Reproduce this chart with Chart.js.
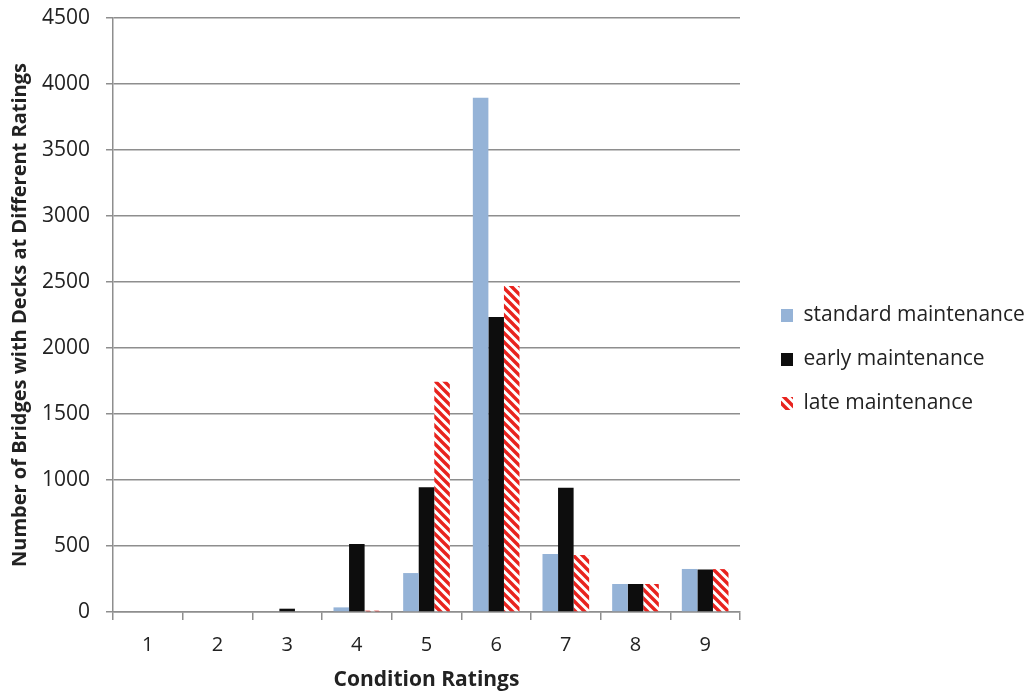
<!DOCTYPE html>
<html lang="en">
<head>
<meta charset="UTF-8">
<title>Condition Ratings</title>
<script src="https://cdn.jsdelivr.net/npm/chart.js"></script>
<style>
  body { margin: 0; background: #fff; }
  #wrap { width: 1028px; height: 694px; }
</style>
</head>
<body>
<div id="wrap"><canvas id="chart"></canvas></div>
<script>
const ratings = ["1", "2", "3", "4", "5", "6", "7", "8", "9"];
const standardMaint = [0, 0, 0, 35, 295, 3895, 440, 212, 326];
const earlyMaint = [0, 0, 25, 515, 945, 2235, 942, 212, 322];
const lateMaint = [0, 0, 0, 10, 1745, 2470, 432, 212, 325];

// red diagonal stripes for "late"
function stripes() {
  const s = 9;
  const c = document.createElement("canvas");
  c.width = s; c.height = s;
  const g = c.getContext("2d");
  g.fillStyle = "#fff";
  g.fillRect(0, 0, s, s);
  g.strokeStyle = "#e8231e";
  g.lineWidth = 3.4;
  g.beginPath();
  g.moveTo(-s, 0); g.lineTo(s, 2 * s);
  g.moveTo(0, 0); g.lineTo(s, s);
  g.moveTo(0, -s); g.lineTo(2 * s, s);
  g.stroke();
  return g.createPattern(c, "repeat");
}

const grey = "#8e8e8e";
const font = "'Open Sans', 'Noto Sans', sans-serif";

// nudge the legend block to where the original has it
const legendNudge = {
  id: "legendNudge",
  afterLayout(ch) {
    const lg = ch.legend;
    lg.left += 18; lg.right += 18;
    lg.top += 13; lg.bottom += 13;
  }
};

const chart = new Chart(document.getElementById("chart"), {
  type: "bar",
  data: {
    labels: ratings,
    datasets: [
      { label: "standard maintenance", data: standardMaint, backgroundColor: "#95b3d7" },
      { label: "early maintenance", data: earlyMaint, backgroundColor: "#0d0d0d" },
      { label: "late maintenance", data: lateMaint, backgroundColor: stripes() }
    ]
  },
  plugins: [legendNudge],
  options: {
    responsive: true,
    maintainAspectRatio: false,
    animation: false,
    layout: { padding: { top: 0, left: 8, right: 0, bottom: 1 } },
    datasets: { bar: { categoryPercentage: 0.67, barPercentage: 1 } },
    plugins: {
      tooltip: { enabled: false },
      legend: {
        position: "right",
        labels: {
          font: { family: font, size: 21 },
          color: "#222",
          boxWidth: 12,
          boxHeight: 13,
          padding: 23
        }
      }
    },
    scales: {
      x: {
        afterFit: s => { s.height = 81; },
        grid: { drawOnChartArea: false, color: grey, tickLength: 8, lineWidth: 1.5 },
        border: { color: grey, width: 1.5 },
        ticks: { font: { family: font, size: 20 }, color: "#222", padding: 13 },
        title: {
          display: true, text: "Condition Ratings",
          font: { family: font, size: 21, weight: "bold" }, color: "#222",
          padding: { top: 4, bottom: 0 }
        }
      },
      y: {
        min: 0, max: 4500,
        afterFit: s => { s.width = 105; s.paddingTop = 18; },
        grid: { color: grey, lineWidth: 1.5, tickLength: 7 },
        border: { color: grey, width: 1.5 },
        ticks: {
          stepSize: 500, font: { family: font, size: 21 }, color: "#222", padding: 16,
          callback: v => String(v)
        },
        title: {
          display: true, text: "Number of Bridges with Decks at Different Ratings",
          font: { family: font, size: 20, weight: "bold" }, color: "#222",
          padding: { top: 0, bottom: 8 }
        }
      }
    }
  }
});

// fix the legend column width so the plot ends where the original does
const fitLegend = chart.legend.fit;
chart.legend.fit = function () {
  fitLegend.call(this);
  this.width = 288;
};
chart.update();
</script>
</body>
</html>
